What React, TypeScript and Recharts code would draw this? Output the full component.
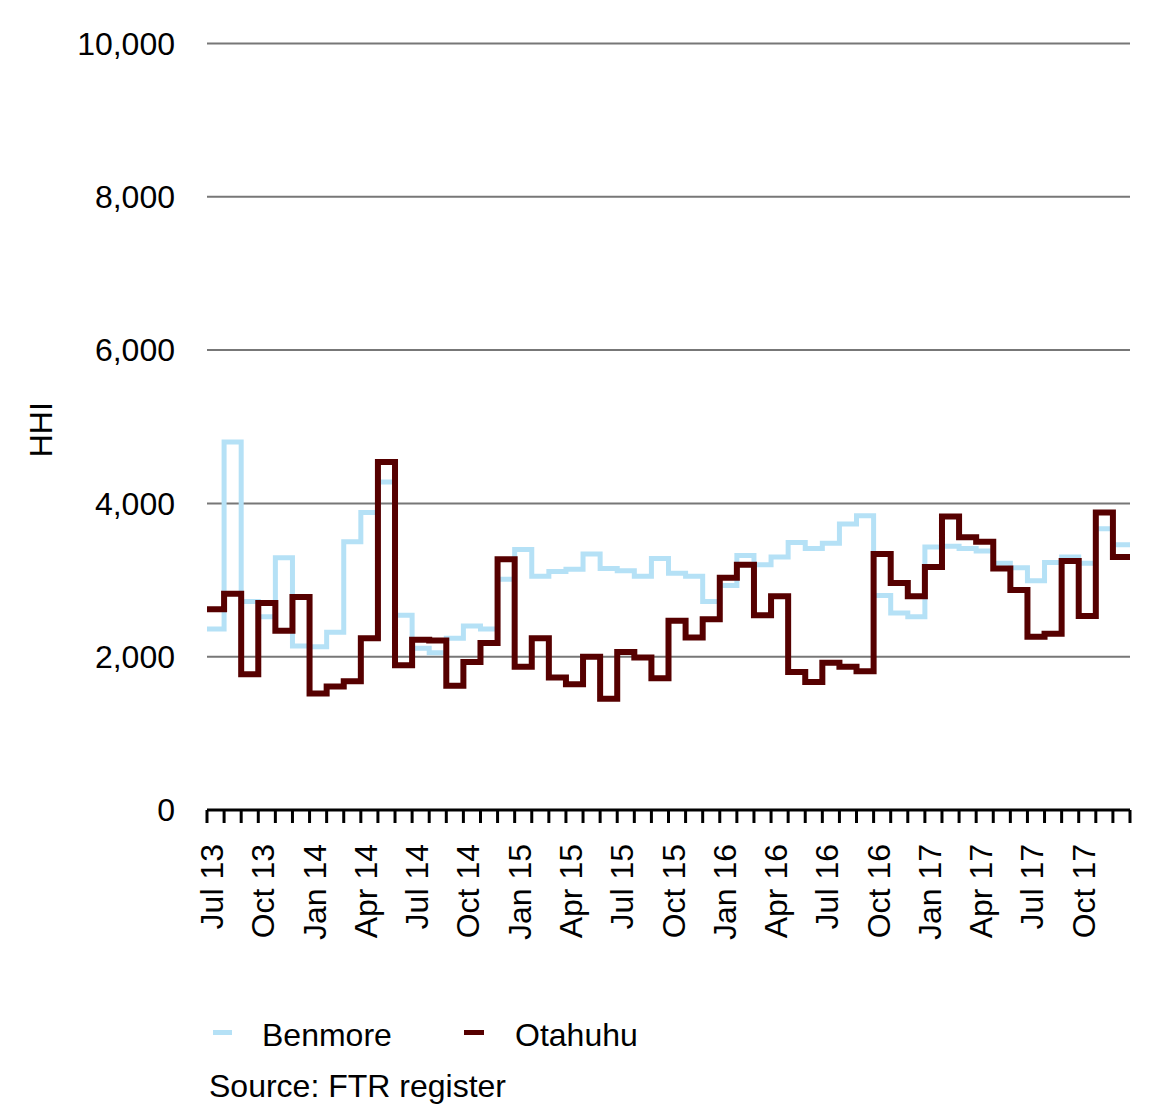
import { LineChart, Line, XAxis, YAxis, CartesianGrid, Legend } from 'recharts';

const FONT = '"Liberation Sans", Arial, Helvetica, sans-serif';
const FS = 32;
const BLUE = '#b5e1f6';
const RED = '#560000';

// one entry per month, Jul 13 .. Dec 17
const months = [
  'Jul 13', 'Aug 13', 'Sep 13', 'Oct 13', 'Nov 13', 'Dec 13',
  'Jan 14', 'Feb 14', 'Mar 14', 'Apr 14', 'May 14', 'Jun 14',
  'Jul 14', 'Aug 14', 'Sep 14', 'Oct 14', 'Nov 14', 'Dec 14',
  'Jan 15', 'Feb 15', 'Mar 15', 'Apr 15', 'May 15', 'Jun 15',
  'Jul 15', 'Aug 15', 'Sep 15', 'Oct 15', 'Nov 15', 'Dec 15',
  'Jan 16', 'Feb 16', 'Mar 16', 'Apr 16', 'May 16', 'Jun 16',
  'Jul 16', 'Aug 16', 'Sep 16', 'Oct 16', 'Nov 16', 'Dec 16',
  'Jan 17', 'Feb 17', 'Mar 17', 'Apr 17', 'May 17', 'Jun 17',
  'Jul 17', 'Aug 17', 'Sep 17', 'Oct 17', 'Nov 17', 'Dec 17',
];

const benmore = [
  2360, 4800, 2720, 2520, 3290, 2140, 2130, 2320, 3500, 3880,
  4280, 2540, 2110, 2050, 2240, 2400, 2360, 3010, 3400, 3050,
  3110, 3140, 3340, 3150, 3120, 3050, 3280, 3090, 3050, 2720,
  2930, 3320, 3200, 3300, 3490, 3410, 3480, 3730, 3840, 2800,
  2570, 2520, 3430, 3440, 3410, 3380, 3220, 3160, 2990, 3230,
  3300, 3220, 3670, 3460,
];

const otahuhu = [
  2620, 2820, 1770, 2700, 2340, 2780, 1520, 1610, 1680, 2240,
  4540, 1890, 2220, 2210, 1620, 1930, 2180, 3270, 1870, 2240,
  1730, 1640, 2000, 1450, 2060, 1990, 1720, 2470, 2250, 2490,
  3030, 3200, 2540, 2790, 1800, 1670, 1920, 1870, 1810, 3340,
  2960, 2790, 3170, 3830, 3560, 3500, 3150, 2870, 2260, 2300,
  3250, 2530, 3880, 3300,
];

const yTicks = [0, 2000, 4000, 6000, 8000, 10000];

// month boundaries get tick marks, every third month gets a label in the middle of its band
const monthTicks = [...months.map((_, i) => i), months.length];
const labelTicks = months.map((_, i) => i).filter((i) => i % 3 === 0).map((i) => i + 0.5);

// step lines need a closing point at the right edge
const chartData = [
  ...months.map((m, i) => ({ idx: i, name: m, benmore: benmore[i], otahuhu: otahuhu[i] })),
  { idx: months.length, name: '', benmore: benmore[benmore.length - 1], otahuhu: otahuhu[otahuhu.length - 1] },
];

function EmptyTick() {
  return <g />;
}

function MonthLabel(props: any) {
  const { x, y, payload } = props;
  const label = months[Math.floor(payload.value)];
  return (
    <text
      x={x}
      y={y}
      dy={7.5}
      transform={`rotate(-90 ${x} ${y})`}
      textAnchor="end"
      fontSize={FS}
      fontFamily={FONT}
      fill="#000"
    >
      {label}
    </text>
  );
}

function HhiLabel(props: any) {
  const vb = props.viewBox;
  const cx = vb.x + 44;
  const cy = vb.y + vb.height / 2 + 3;
  return (
    <text
      x={cx}
      y={cy}
      transform={`rotate(-90 ${cx} ${cy})`}
      textAnchor="middle"
      fontSize={FS}
      fontFamily={FONT}
      fill="#000"
    >
      HHI
    </text>
  );
}

function LegendBox() {
  return (
    <div style={{ position: 'relative', height: 90, fontFamily: FONT, fontSize: FS, lineHeight: '36px', color: '#000' }}>
      <span style={{ position: 'absolute', left: 205, top: 12.5, width: 19, height: 5, background: BLUE }} />
      <span style={{ position: 'absolute', left: 254, top: 0, whiteSpace: 'nowrap' }}>Benmore</span>
      <span style={{ position: 'absolute', left: 456, top: 12.5, width: 20, height: 5, background: RED }} />
      <span style={{ position: 'absolute', left: 507, top: 0, whiteSpace: 'nowrap' }}>Otahuhu</span>
      <span style={{ position: 'absolute', left: 201, top: 51, whiteSpace: 'nowrap' }}>Source: FTR register</span>
    </div>
  );
}

export default function App() {
  return (
    <LineChart
      width={1152}
      height={1103}
      data={chartData}
      margin={{ top: 35.5, right: 30, bottom: 187, left: 0 }}
    >
      <CartesianGrid vertical={false} stroke="#777" strokeWidth={2} />
      <YAxis
        type="number"
        domain={[0, 10000]}
        ticks={yTicks}
        interval={0}
        width={199}
        axisLine={false}
        tickLine={false}
        tickSize={0}
        tickMargin={32}
        tickFormatter={(v: number) => v.toLocaleString('en-US')}
        tick={{ fill: '#000', fontSize: FS, fontFamily: FONT }}
        label={{ value: 'HHI', content: HhiLabel }}
      />
      <XAxis
        dataKey="idx"
        type="number"
        domain={[0, months.length]}
        ticks={monthTicks}
        interval={0}
        height={14}
        tickSize={13}
        tick={EmptyTick}
        tickLine={{ stroke: '#000', strokeWidth: 3 }}
        axisLine={{ stroke: '#000', strokeWidth: 3 }}
      />
      <XAxis
        xAxisId="lbl"
        dataKey="idx"
        type="number"
        domain={[0, months.length]}
        ticks={labelTicks}
        interval={0}
        height={100}
        tickSize={0}
        tickMargin={20}
        tickLine={false}
        axisLine={false}
        tick={MonthLabel}
      />
      <Legend
        layout="horizontal"
        verticalAlign="middle"
        align="center"
        content={LegendBox}
        wrapperStyle={{ top: 1009, left: 0, width: 1152, height: 90 }}
      />
      <Line
        type="stepAfter"
        dataKey="benmore"
        name="Benmore"
        stroke={BLUE}
        strokeWidth={5}
        dot={false}
        activeDot={false}
        isAnimationActive={false}
      />
      <Line
        type="stepAfter"
        dataKey="otahuhu"
        name="Otahuhu"
        stroke={RED}
        strokeWidth={6}
        dot={false}
        activeDot={false}
        isAnimationActive={false}
      />
    </LineChart>
  );
}
